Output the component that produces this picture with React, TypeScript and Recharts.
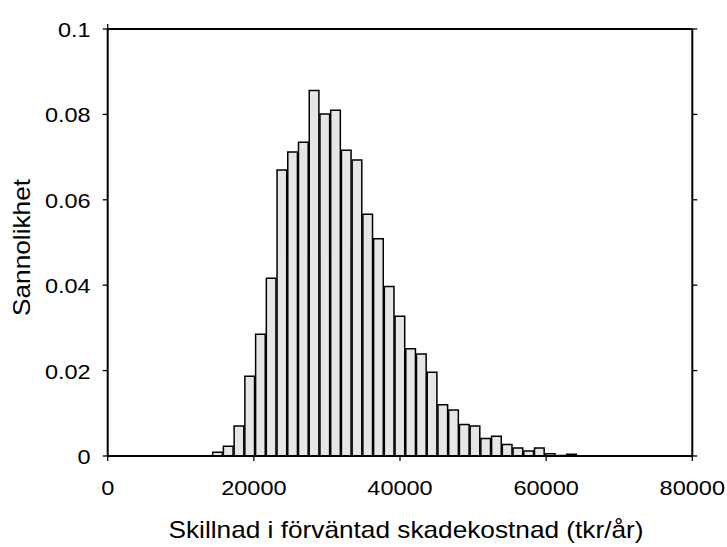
import React from 'react';
import { BarChart, Bar, XAxis, YAxis, Label } from 'recharts';

const binCenters = [
  14964, 16432, 17900, 19368, 20836, 22304, 23772, 25240, 26708, 28176,
  29644, 31112, 32580, 34048, 35516, 36984, 38452, 39920, 41388, 42856,
  44324, 45792, 47260, 48728, 50196, 51664, 53132, 54600, 56068, 57536,
  59004, 60472, 61940, 63408,
];
const probabilities = [
  0.0009, 0.0023, 0.0070, 0.0187, 0.0285, 0.0416, 0.0670, 0.0712, 0.0735, 0.0856,
  0.0801, 0.0810, 0.0716, 0.0693, 0.0566, 0.0509, 0.0397, 0.0327, 0.0251, 0.0239,
  0.0196, 0.0120, 0.0108, 0.0074, 0.0070, 0.0041, 0.0046, 0.0027, 0.0019, 0.0012,
  0.0019, 0.0005, 0.0001, 0.0004,
];
const BIN_WIDTH = 1468;
const xTicks = [0, 20000, 40000, 60000, 80000];
const xTickLabels = ['0', '20000', '40000', '60000', '80000'];
const yTicks = [0, 0.02, 0.04, 0.06, 0.08, 0.1];
const yTickLabels = ['0', '0.02', '0.04', '0.06', '0.08', '0.1'];
const xTitle = 'Skillnad i förväntad skadekostnad (tkr/år)';
const yTitle = 'Sannolikhet';

const data = binCenters.map((x, i) => ({ x, p: probabilities[i] }));

const W = 727;
const H = 547;
const margin = { top: 19, right: 24.7, bottom: 31, left: 0 };
const LEFT_W = 107.7;
const RIGHT_W = 10;
const TOP_H = 10;
const BOTTOM_H = 60;
const plotW = W - margin.left - margin.right - LEFT_W - RIGHT_W;
const barPx = (BIN_WIDTH / 80000) * plotW;

const FONT = '"Liberation Sans", Arial, Helvetica, sans-serif';
const axisLine = { stroke: '#000', strokeWidth: 2 };
const TICK_LEN = 5;
const TICK_W = 1.3;
const TICK_FONT = 21;
const TICK_SX = 1.12;
const TITLE_FONT = 23;
const TITLE_SX = 1.14;

const labelFor = (values: number[], labels: string[], v: number) => {
  const i = values.indexOf(v);
  return i >= 0 ? labels[i] : String(v);
};

const BottomTick = (props: any) => {
  const { x, y, payload } = props;
  return (
    <g>
      <line x1={x} x2={x} y1={y} y2={y + TICK_LEN} stroke="#000" strokeWidth={TICK_W} />
      <text
        transform={`translate(${x},${y + 32}) scale(${TICK_SX},1)`}
        textAnchor="middle"
        dominantBaseline="central"
        fontSize={TICK_FONT}
        fontFamily={FONT}
        fill="#000"
      >
        {labelFor(xTicks, xTickLabels, payload.value)}
      </text>
    </g>
  );
};

const TopTick = (props: any) => {
  const { x, y } = props;
  return <line x1={x} x2={x} y1={y} y2={y - TICK_LEN} stroke="#000" strokeWidth={TICK_W} />;
};

const LeftTick = (props: any) => {
  const { x, y, payload } = props;
  return (
    <g>
      <line x1={x - TICK_LEN} x2={x} y1={y} y2={y} stroke="#000" strokeWidth={TICK_W} />
      <text
        transform={`translate(${x - 17},${y + 1}) scale(${TICK_SX},1)`}
        textAnchor="end"
        dominantBaseline="central"
        fontSize={TICK_FONT}
        fontFamily={FONT}
        fill="#000"
      >
        {labelFor(yTicks, yTickLabels, payload.value)}
      </text>
    </g>
  );
};

const RightTick = (props: any) => {
  const { x, y } = props;
  return <line x1={x} x2={x + TICK_LEN} y1={y} y2={y} stroke="#000" strokeWidth={TICK_W} />;
};

const YTitle = (props: any) => {
  const vb = props.viewBox || { x: 0, y: 0, width: 0, height: 0 };
  const cx = vb.x + 22;
  const cy = vb.y + vb.height / 2 + 5;
  return (
    <text
      transform={`translate(${cx},${cy}) rotate(-90) scale(${TITLE_SX},1)`}
      textAnchor="middle"
      dominantBaseline="central"
      fontSize={TITLE_FONT}
      fontFamily={FONT}
      fill="#000"
    >
      {yTitle}
    </text>
  );
};

const XTitle = (props: any) => {
  const vb = props.viewBox || { x: 0, y: 0, width: 0, height: 0 };
  const cx = vb.x + vb.width / 2 + 6;
  const cy = vb.y + 74;
  return (
    <text
      transform={`translate(${cx},${cy}) scale(${TITLE_SX},1)`}
      textAnchor="middle"
      dominantBaseline="central"
      fontSize={TITLE_FONT}
      fontFamily={FONT}
      fill="#000"
    >
      {xTitle}
    </text>
  );
};

export default function App() {
  return (
    <div style={{ position: 'absolute', left: 0, top: 0, width: W, height: H, background: '#fff' }}>
      <BarChart width={W} height={H} data={data} margin={margin}>
        <XAxis
          xAxisId="bottom"
          dataKey="x"
          type="number"
          domain={[0, 80000]}
          ticks={xTicks}
          interval={0}
          height={BOTTOM_H}
          axisLine={axisLine}
          tickLine={false}
          tickSize={0}
          tickMargin={0}
          tick={<BottomTick />}
          allowDataOverflow
        >
          <Label content={<XTitle />} />
        </XAxis>
        <XAxis
          xAxisId="top"
          orientation="top"
          type="number"
          domain={[0, 80000]}
          ticks={xTicks}
          interval={0}
          height={TOP_H}
          axisLine={axisLine}
          tickLine={false}
          tickSize={0}
          tickMargin={0}
          tick={<TopTick />}
          allowDataOverflow
        />
        <YAxis
          yAxisId="left"
          type="number"
          domain={[0, 0.1]}
          ticks={yTicks}
          interval={0}
          width={LEFT_W}
          axisLine={axisLine}
          tickLine={false}
          tickSize={0}
          tickMargin={0}
          tick={<LeftTick />}
          allowDataOverflow
        >
          <Label content={<YTitle />} />
        </YAxis>
        <YAxis
          yAxisId="right"
          orientation="right"
          type="number"
          domain={[0, 0.1]}
          ticks={yTicks}
          interval={0}
          width={RIGHT_W}
          axisLine={axisLine}
          tickLine={false}
          tickSize={0}
          tickMargin={0}
          tick={<RightTick />}
          allowDataOverflow
        />
        <Bar
          xAxisId="bottom"
          yAxisId="left"
          dataKey="p"
          barSize={barPx}
          fill="#e6e6e6"
          stroke="#000"
          strokeWidth={1.5}
          isAnimationActive={false}
        />
      </BarChart>
    </div>
  );
}
